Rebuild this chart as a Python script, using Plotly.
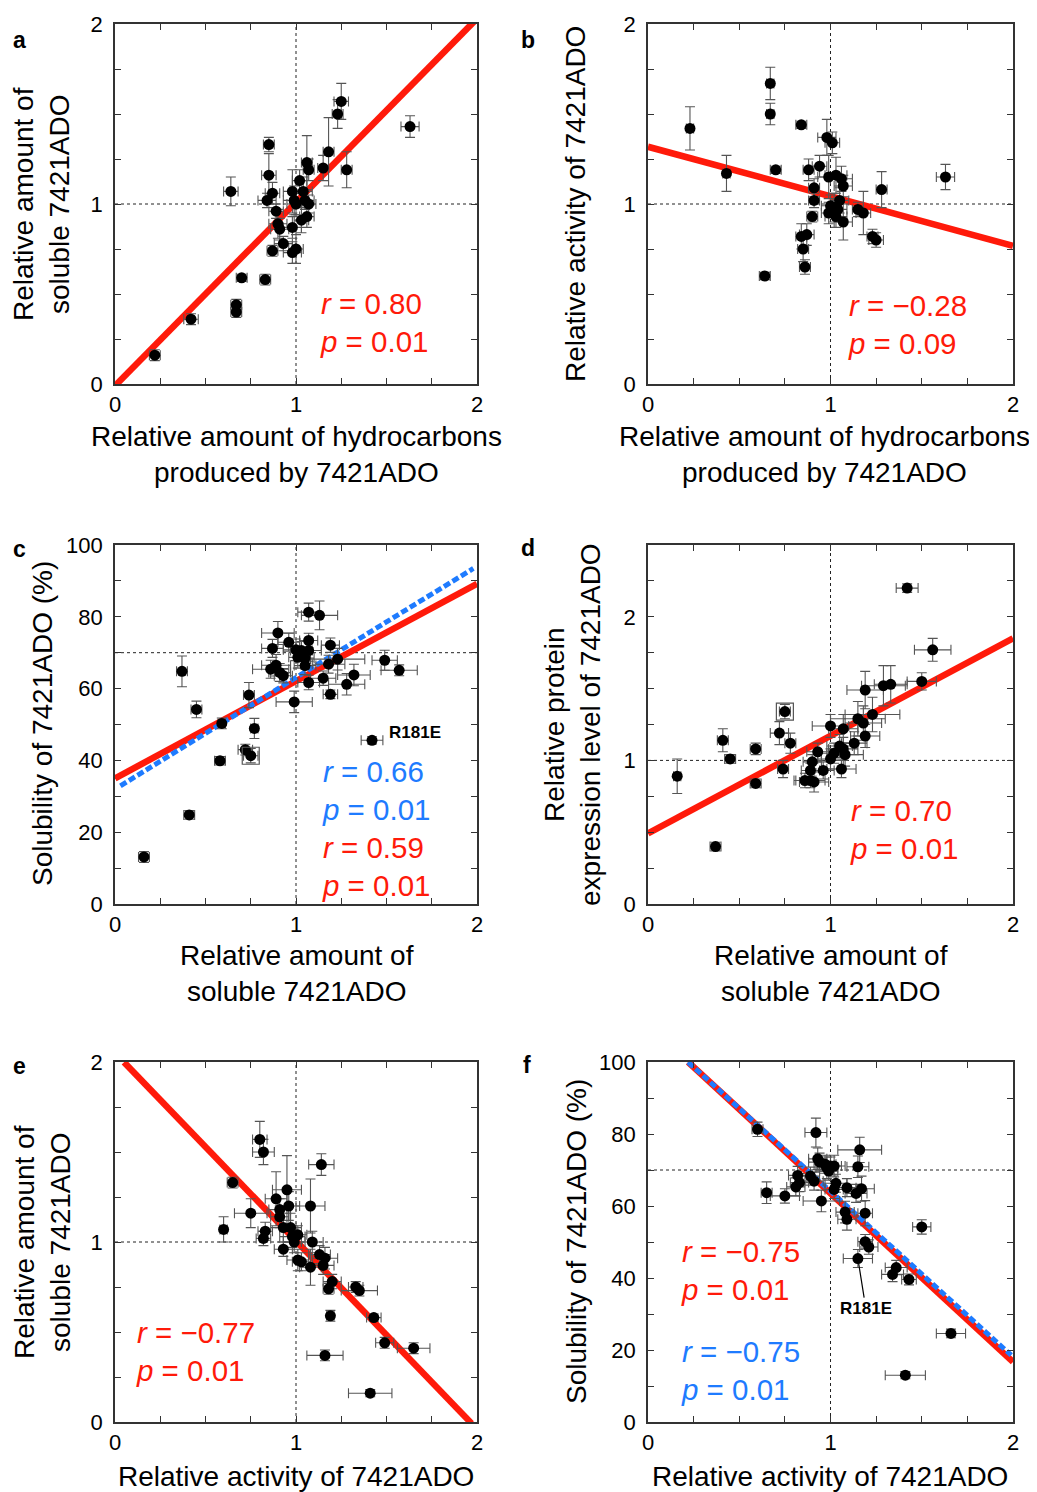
import plotly.graph_objects as go

# --------------------------------------------------------------
# Data
# --------------------------------------------------------------
# a: hydrocarbons (x) vs soluble 7421ADO (y)
a_x = [0.22, 0.42, 0.67, 0.67, 0.70, 0.83, 0.64, 0.85, 0.85, 0.87, 0.84, 0.89, 0.90, 0.91, 0.87, 0.93, 0.98, 0.98,
       1.00, 0.98, 0.99, 1.00, 1.02, 1.04, 1.05, 1.07, 1.06, 1.03, 1.06, 1.07, 1.15, 1.18, 1.23, 1.25, 1.28, 1.63]
a_y = [0.16, 0.36, 0.40, 0.44, 0.59, 0.58, 1.07, 1.33, 1.16, 1.06, 1.02, 0.96, 0.89, 0.86, 0.74, 0.78, 0.87, 0.73,
       0.75, 1.07, 1.02, 1.00, 1.13, 1.07, 1.02, 1.00, 0.93, 0.91, 1.23, 1.19, 1.20, 1.29, 1.50, 1.57, 1.19, 1.43]
a_ex = [0.03, 0.04, 0.03, 0.03, 0.03, 0.03, 0.04, 0.03, 0.04, 0.04, 0.05, 0.04, 0.05, 0.05, 0.03, 0.05, 0.05, 0.05,
        0.04, 0.05, 0.06, 0.05, 0.04, 0.05, 0.05, 0.04, 0.04, 0.04, 0.03, 0.03, 0.03, 0.03, 0.03, 0.04, 0.03, 0.05]
a_ey = [0.03, 0.03, 0.03, 0.03, 0.02, 0.03, 0.08, 0.04, 0.12, 0.06, 0.04, 0.04, 0.08, 0.06, 0.03, 0.04, 0.06, 0.06,
        0.08, 0.12, 0.08, 0.06, 0.06, 0.08, 0.05, 0.05, 0.06, 0.07, 0.15, 0.06, 0.07, 0.19, 0.08, 0.10, 0.10, 0.06]

# b: hydrocarbons (x) vs activity (y)
b_x = [0.23, 0.43, 0.67, 0.67, 0.70, 0.84, 0.64, 0.86, 0.85, 0.84, 0.87, 0.90, 0.91, 0.91, 0.88, 0.94, 0.98, 1.01,
       0.99, 1.00, 0.99, 1.03, 1.03, 1.06, 1.07, 1.05, 1.04, 1.07, 1.02, 1.15, 1.18, 1.23, 1.25, 1.28, 1.63]
b_y = [1.42, 1.17, 1.67, 1.50, 1.19, 1.44, 0.60, 0.65, 0.75, 0.82, 0.83, 0.93, 1.02, 1.09, 1.19, 1.21, 1.37, 1.34,
       1.15, 0.99, 0.95, 0.93, 1.16, 1.14, 1.10, 1.02, 0.97, 0.90, 0.98, 0.97, 0.95, 0.82, 0.80, 1.08, 1.15]
b_ex = [0.02, 0.02, 0.02, 0.02, 0.03, 0.03, 0.03, 0.03, 0.03, 0.03, 0.04, 0.03, 0.03, 0.03, 0.03, 0.04, 0.05, 0.04,
        0.06, 0.05, 0.04, 0.06, 0.06, 0.06, 0.05, 0.05, 0.05, 0.05, 0.04, 0.03, 0.04, 0.03, 0.04, 0.03, 0.05]
b_ey = [0.12, 0.10, 0.09, 0.06, 0.02, 0.02, 0.02, 0.04, 0.07, 0.07, 0.06, 0.03, 0.04, 0.05, 0.06, 0.06, 0.10, 0.06,
        0.12, 0.06, 0.06, 0.06, 0.10, 0.07, 0.06, 0.07, 0.06, 0.10, 0.08, 0.04, 0.12, 0.04, 0.04, 0.10, 0.07]

# c: soluble 7421ADO (x) vs solubility % (y)
c_x = [0.16, 0.41, 0.37, 0.45, 0.58, 0.59, 0.72, 0.75, 0.74, 0.77, 0.87, 0.90, 0.86, 0.89, 0.91, 0.93, 0.96, 1.00,
       1.01, 1.03, 1.05, 1.05, 1.07, 1.07, 1.07, 1.13, 1.07, 0.99, 1.15, 1.18, 1.19, 1.23, 1.19, 1.28, 1.32, 1.49,
       1.57, 1.42]
c_y = [13.1, 24.8, 64.8, 54.2, 39.9, 50.3, 43.0, 41.3, 58.2, 48.9, 71.2, 75.5, 65.4, 66.5, 64.5, 63.6, 72.9, 70.8,
       68.7, 70.6, 68.5, 66.4, 73.4, 70.6, 81.3, 80.4, 61.7, 56.3, 62.9, 66.8, 72.1, 68.2, 58.4, 61.2, 63.8, 67.9,
       65.1, 45.6]
c_ex = [0.03, 0.03, 0.03, 0.03, 0.03, 0.02, 0.04, 0.04, 0.03, 0.02, 0.06, 0.09, 0.10, 0.08, 0.06, 0.05, 0.06, 0.07,
        0.05, 0.06, 0.05, 0.06, 0.05, 0.07, 0.06, 0.10, 0.06, 0.10, 0.07, 0.09, 0.05, 0.15, 0.04, 0.10, 0.09, 0.07,
        0.10, 0.06]
c_ey = [1.5, 1.2, 4.3, 2.3, 1.2, 1.5, 1.5, 2.0, 3.5, 2.8, 2.5, 3.2, 2.5, 3.0, 2.5, 2.0, 2.5, 3.0,
        3.0, 2.5, 3.0, 2.5, 2.0, 3.0, 2.5, 4.0, 2.0, 3.0, 2.0, 2.5, 2.0, 3.0, 1.2, 3.0, 3.0, 2.8,
        1.5, 1.0]

# d: soluble 7421ADO (x) vs protein expression (y)
d_x = [0.16, 0.37, 0.41, 0.45, 0.59, 0.59, 0.72, 0.75, 0.78, 0.74, 0.86, 0.89, 0.91, 0.89, 0.90, 0.93, 0.96, 1.00,
       1.00, 1.02, 1.05, 1.07, 1.08, 1.06, 1.07, 1.13, 1.15, 1.18, 1.19, 1.19, 1.23, 1.29, 1.33, 1.50, 1.56, 1.42]
d_y = [0.89, 0.40, 1.14, 1.01, 1.08, 0.84, 1.19, 1.34, 1.12, 0.94, 0.86, 0.86, 0.85, 0.93, 0.99, 1.06, 0.93, 1.24,
       1.01, 1.05, 1.10, 1.08, 1.04, 0.94, 1.22, 1.12, 1.29, 1.26, 1.17, 1.49, 1.32, 1.52, 1.53, 1.55, 1.77, 2.20]
d_ex = [0.02, 0.03, 0.03, 0.03, 0.03, 0.03, 0.05, 0.03, 0.03, 0.03, 0.06, 0.08, 0.08, 0.05, 0.05, 0.06, 0.06, 0.10,
        0.07, 0.07, 0.07, 0.08, 0.10, 0.08, 0.08, 0.07, 0.15, 0.10, 0.08, 0.10, 0.15, 0.12, 0.09, 0.08, 0.10, 0.06]
d_ey = [0.12, 0.03, 0.08, 0.03, 0.04, 0.03, 0.08, 0.05, 0.07, 0.06, 0.05, 0.05, 0.07, 0.05, 0.05, 0.06, 0.06, 0.08,
        0.07, 0.07, 0.08, 0.08, 0.08, 0.06, 0.10, 0.08, 0.12, 0.12, 0.08, 0.13, 0.12, 0.14, 0.13, 0.06, 0.08, 0.03]

# e: activity (x) vs soluble 7421ADO (y)
e_x = [0.60, 0.65, 0.75, 0.80, 0.82, 0.83, 0.82, 0.89, 0.91, 0.91, 0.93, 0.93, 0.95, 0.96, 0.97, 0.98, 0.99, 1.01,
       1.01, 1.03, 1.08, 1.09, 1.08, 1.13, 1.16, 1.15, 1.14, 1.18, 1.20, 1.33, 1.35, 1.19, 1.43, 1.49, 1.65, 1.16, 1.41]
e_y = [1.07, 1.33, 1.16, 1.57, 1.50, 1.06, 1.02, 1.24, 1.18, 1.14, 0.96, 1.08, 1.29, 1.20, 1.08, 1.03, 1.00, 1.04,
       0.90, 0.89, 1.20, 1.00, 0.86, 0.93, 0.91, 0.87, 1.43, 0.74, 0.78, 0.75, 0.73, 0.59, 0.58, 0.44, 0.41, 0.37, 0.16]
e_ex = [0.02, 0.03, 0.09, 0.04, 0.06, 0.04, 0.04, 0.06, 0.06, 0.05, 0.05, 0.07, 0.08, 0.06, 0.06, 0.07, 0.06, 0.05,
        0.06, 0.05, 0.08, 0.06, 0.06, 0.06, 0.07, 0.06, 0.07, 0.03, 0.05, 0.04, 0.10, 0.02, 0.04, 0.05, 0.09, 0.10, 0.12]
e_ey = [0.07, 0.03, 0.08, 0.10, 0.07, 0.05, 0.04, 0.15, 0.06, 0.06, 0.04, 0.08, 0.19, 0.08, 0.08, 0.06, 0.06, 0.05,
        0.06, 0.05, 0.15, 0.06, 0.10, 0.05, 0.06, 0.05, 0.06, 0.03, 0.04, 0.03, 0.03, 0.03, 0.02, 0.03, 0.03, 0.03, 0.02]

# f: activity (x) vs solubility % (y)
f_x = [0.60, 0.65, 0.75, 0.81, 0.82, 0.83, 0.89, 0.91, 0.92, 0.93, 0.94, 0.95, 0.97, 0.98, 0.99, 1.00, 1.02, 1.03,
       1.02, 1.09, 1.08, 1.09, 1.14, 1.17, 1.15, 1.16, 1.19, 1.19, 1.21, 1.15, 1.34, 1.36, 1.43, 1.50, 1.66, 1.41]
f_y = [81.3, 63.7, 62.8, 65.3, 68.5, 66.5, 68.3, 66.9, 80.4, 73.1, 72.2, 61.4, 71.6, 70.6, 69.7, 71.1, 71.1, 66.3,
       64.6, 65.1, 58.3, 56.3, 63.5, 64.8, 70.9, 75.6, 58.0, 50.1, 48.6, 45.4, 41.0, 42.9, 39.6, 54.2, 24.6, 13.0]
f_ex = [0.03, 0.03, 0.08, 0.05, 0.05, 0.05, 0.05, 0.05, 0.06, 0.05, 0.06, 0.10, 0.06, 0.06, 0.05, 0.06, 0.06, 0.06,
        0.05, 0.05, 0.05, 0.05, 0.06, 0.07, 0.06, 0.12, 0.04, 0.04, 0.05, 0.08, 0.06, 0.06, 0.04, 0.05, 0.08, 0.11]
f_ey = [2.0, 3.0, 2.0, 2.5, 2.5, 2.5, 2.5, 2.5, 4.0, 3.0, 2.5, 3.0, 2.5, 3.0, 2.5, 2.5, 3.0, 2.5,
        2.5, 2.5, 3.0, 3.0, 2.5, 3.5, 3.0, 3.5, 3.5, 2.0, 2.0, 2.5, 2.0, 2.0, 1.5, 2.0, 1.2, 1.0]

# regression fits: slope, intercept, x start, x end
fit_red = {'a': (1.02, -0.01, 0.0, 2.0), 'b': (-0.275, 1.318, 0.0, 2.0), 'c': (27.1, 35.0, 0.0, 2.0),
           'd': (0.679, 0.492, 0.0, 2.0), 'e': (-1.045, 2.051, 0.05, 1.97), 'f': (-46.8, 110.3, 0.22, 2.0)}
fit_blue = {'c': (31.05, 32.0, 0.03, 1.98), 'f': (-46.0, 110.1, 0.22, 1.99)}

# statistics text
stats_red = {'a': ('0.80', '0.01'), 'b': ('\u22120.28', '0.09'), 'c': ('0.59', '0.01'),
             'd': ('0.70', '0.01'), 'e': ('\u22120.77', '0.01'), 'f': ('\u22120.75', '0.01')}
stats_blue = {'c': ('0.66', '0.01'), 'f': ('\u22120.75', '0.01')}

# boxed (highlighted) variants
box_c = ([0.75], [41.3])
box_d = ([0.75], [1.34])

# --------------------------------------------------------------
# Plot settings
# --------------------------------------------------------------
W, H = 1037, 1492
OFF = 8  # the page body adds an 8px margin, shift everything back by that
FONT = "Arial, 'Liberation Sans', sans-serif"
RED = '#ff1a0a'
BLUE = '#1e7bff'


def px(x, y):
    return (x - OFF) / W, 1 - (y - OFF) / H


def dom(a, b, vertical=False):
    if vertical:
        return [1 - (b - OFF) / H, 1 - (a - OFF) / H]
    return [(a - OFF) / W, (b - OFF) / W]


cols = [dom(115, 477), dom(648, 1013)]
rows = [dom(24, 384, True), dom(545, 904, True), dom(1062, 1422, True)]

panels = {
    'a': dict(x=a_x, y=a_y, ex=a_ex, ey=a_ey, yr=[0, 2], yd=1, ym=0.25, ref=1),
    'b': dict(x=b_x, y=b_y, ex=b_ex, ey=b_ey, yr=[0, 2], yd=1, ym=0.25, ref=1),
    'c': dict(x=c_x, y=c_y, ex=c_ex, ey=c_ey, yr=[0, 100], yd=20, ym=10, ref=70),
    'd': dict(x=d_x, y=d_y, ex=d_ex, ey=d_ey, yr=[0, 2.5], yd=1, ym=0.25, ref=1),
    'e': dict(x=e_x, y=e_y, ex=e_ex, ey=e_ey, yr=[0, 2], yd=1, ym=0.25, ref=1),
    'f': dict(x=f_x, y=f_y, ex=f_ex, ey=f_ey, yr=[0, 100], yd=20, ym=10, ref=70),
}


def axis_style(rng, dtick, minor):
    tk = dict(ticks='inside', ticklen=6, tickwidth=1.2, tickcolor='#333')
    return dict(range=rng, tickmode='linear', tick0=0, dtick=dtick, **tk,
                minor=dict(tick0=0, dtick=minor, **tk),
                showline=True, linecolor='#333', linewidth=1.6, mirror='ticks',
                showgrid=False, zeroline=False, fixedrange=True, automargin=False,
                tickfont=dict(size=22, color='black', family=FONT))


fig = go.Figure()
layout = dict(width=W, height=H, margin=dict(l=0, r=0, t=0, b=0, autoexpand=False), showlegend=False,
              template='none', paper_bgcolor='white', plot_bgcolor='white',
              font=dict(family=FONT, color='black'))
shapes = []

for i, (key, p) in enumerate(panels.items()):
    n = i + 1
    xs = 'x' if n == 1 else f'x{n}'
    ys = 'y' if n == 1 else f'y{n}'
    xa = dict(axis_style([0, 2], 1, 0.25), domain=cols[i % 2], anchor=ys, ticklabelstandoff=0)
    ya = dict(axis_style(p['yr'], p['yd'], p['ym']), domain=rows[i // 2], anchor=xs, ticklabelstandoff=6)
    layout['xaxis' if n == 1 else f'xaxis{n}'] = xa
    layout['yaxis' if n == 1 else f'yaxis{n}'] = ya

    # dashed reference lines
    shapes.append(dict(type='line', xref=xs, yref=f'{ys} domain', x0=1, x1=1, y0=0, y1=1,
                       line=dict(color='#222', width=1, dash='3px,3px'), layer='below'))
    shapes.append(dict(type='line', xref=f'{xs} domain', yref=ys, x0=0, x1=1, y0=p['ref'], y1=p['ref'],
                       line=dict(color='#222', width=1, dash='3px,3px'), layer='below'))

    # fits
    m, b0, x0, x1 = fit_red[key]
    fig.add_trace(go.Scatter(x=[x0, x1], y=[m * x0 + b0, m * x1 + b0], mode='lines',
                             line=dict(color=RED, width=6.5), xaxis=xs, yaxis=ys))
    if key in fit_blue:
        m, b0, x0, x1 = fit_blue[key]
        fig.add_trace(go.Scatter(x=[x0, x1], y=[m * x0 + b0, m * x1 + b0], mode='lines',
                                 line=dict(color=BLUE, width=5, dash='7px,3px'), xaxis=xs, yaxis=ys))

    # points
    fig.add_trace(go.Scatter(
        x=p['x'], y=p['y'], mode='markers', xaxis=xs, yaxis=ys,
        marker=dict(color='black', size=11),
        error_x=dict(type='data', array=p['ex'], color='#555', thickness=1.1, width=5),
        error_y=dict(type='data', array=p['ey'], color='#555', thickness=1.1, width=5)))

for bx, ax_i in ((box_c, 3), (box_d, 4)):
    fig.add_trace(go.Scatter(x=bx[0], y=bx[1], mode='markers', xaxis=f'x{ax_i}', yaxis=f'y{ax_i}',
                             marker=dict(symbol='square-open', size=17, color='#555', line=dict(width=1.2))))

annotations = []


def text(s, x, y, size=28, color='black', angle=0, xanchor='center', bold=False, align='center'):
    xp, yp = px(x, y)
    annotations.append(dict(text=f'<b>{s}</b>' if bold else s, x=xp, y=yp, xref='paper', yref='paper',
                            showarrow=False, xanchor=xanchor, yanchor='middle', textangle=angle,
                            align=align, font=dict(size=size, color=color, family=FONT)))


# panel letters
for lab, (x, y) in zip('abcdef', [(19, 40), (528, 40), (19, 549), (528, 548), (19, 1066), (527, 1065)]):
    text(lab, x, y, size=23, bold=True)

# axis titles
hc = 'Relative amount of hydrocarbons<br>produced by 7421ADO'
sol = 'Relative amount of<br>soluble 7421ADO'
act = 'Relative activity of 7421ADO'
pct = 'Solubility of 7421ADO (%)'
text(hc, 296, 455)
text(hc, 824, 455)
text(sol, 297, 973)
text(sol, 831, 973)
text(act, 296, 1476)
text(act, 830, 1476)
text(sol, 42, 204, angle=-90)
text(act, 576, 204, angle=-90)
text(pct, 42, 724, angle=-90)
text('Relative protein<br>expression level of 7421ADO', 573, 725, angle=-90)
text(sol, 42, 1242, angle=-90)
text(pct, 576, 1242, angle=-90)

# r / p statistics (block left edge, block centre)
stat_pos = {'a': [(RED, 318, 323)],
            'b': [(RED, 846, 325)],
            'c': [(BLUE, 320, 790), (RED, 320, 866)],
            'd': [(RED, 848, 829)],
            'e': [(RED, 134, 1351)],
            'f': [(RED, 679, 1270), (BLUE, 679, 1370)]}
for key, items in stat_pos.items():
    for color, sx, sy in items:
        r, pv = (stats_blue if color == BLUE else stats_red)[key]
        text(f'<i>r</i> = {r}<br><i>p</i> = {pv}', sx, sy, size=29.5, color=color, xanchor='left', align='left')

# R181E labels
text('R181E', 387, 732, size=17, bold=True, xanchor='left')
annotations.append(dict(text='<b>R181E</b>', x=1.15, y=45.4, xref='x6', yref='y6', ax=8, ay=50,
                        axref='pixel', ayref='pixel', showarrow=True, arrowhead=0, arrowwidth=1.2,
                        arrowcolor='black', standoff=5, font=dict(size=17, color='black', family=FONT)))

layout['annotations'] = annotations
layout['shapes'] = shapes
fig.update_layout(**layout)

fig.write_html("out.html")
